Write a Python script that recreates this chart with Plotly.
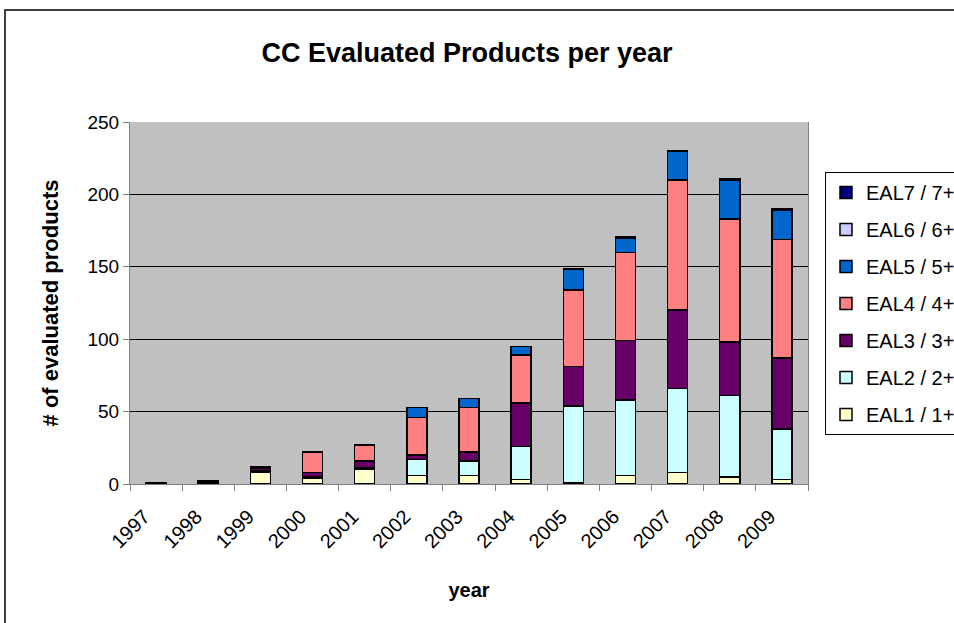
import plotly.graph_objects as go

years = ["1997", "1998", "1999", "2000", "2001", "2002", "2003", "2004", "2005", "2006", "2007", "2008", "2009"]
eal1 = [0, 1, 8, 4, 10, 6, 6, 3, 1, 6, 8, 5, 3]
eal2 = [0, 0, 1, 1, 1, 11, 10, 23, 53, 52, 58, 56, 35]
eal3 = [1, 1, 2, 3, 5, 3, 6, 30, 27, 41, 54, 37, 49]
eal4 = [0, 0, 1, 14, 11, 26, 31, 33, 53, 61, 90, 85, 82]
eal5 = [0, 0, 0, 0, 0, 7, 6, 6, 14, 10, 20, 27, 20]
eal6 = [0, 0, 0, 0, 0, 0, 0, 0, 0, 0, 0, 0, 0]
eal7 = [0, 0, 0, 0, 0, 0, 0, 0, 1, 1, 0, 1, 1]

series = [
    ("EAL1 / 1+", eal1, "#FFFFCC"),
    ("EAL2 / 2+", eal2, "#CCFFFF"),
    ("EAL3 / 3+", eal3, "#660066"),
    ("EAL4 / 4+", eal4, "#FF8080"),
    ("EAL5 / 5+", eal5, "#0066CC"),
    ("EAL6 / 6+", eal6, "#CCCCFF"),
    ("EAL7 / 7+", eal7, "#000080"),
]

FONT = "Liberation Sans, Arial, sans-serif"

fig = go.Figure()
n = len(series)
for i, (name, vals, color) in enumerate(series):
    fig.add_trace(go.Bar(
        x=years,
        y=[v if v else None for v in vals],
        name=name,
        legendgroup=name,
        legendrank=n - i,
        marker=dict(color=color, line=dict(color="black", width=1.5)),
    ))

L, R, T, B = 130, 146, 122, 139
pw = 954 - L - R
ph = 623 - T - B

def px(x):
    return (x - L) / pw

def py(y):
    return (623 - B - y) / ph

fig.update_layout(
    width=954, height=623,
    margin=dict(l=L, r=R, t=T, b=B, autoexpand=False),
    barmode="stack",
    bargap=0.615,
    paper_bgcolor="white",
    plot_bgcolor="#C0C0C0",
    font=dict(family=FONT, color="black", size=19),
    title=dict(text="<b>CC Evaluated Products per year</b>", x=467 / 954, xanchor="center",
               y=1 - 53 / 623, yanchor="middle", font=dict(size=27, family=FONT)),
    legend=dict(
        x=px(825), xanchor="left", y=py(172), yanchor="top",
        traceorder="grouped",
        tracegroupgap=8,
        bordercolor="black", borderwidth=1, bgcolor="white",
        font=dict(size=20, family=FONT),
        itemwidth=30,
    ),
    xaxis=dict(
        type="category",
        tickangle=-45,
        tickfont=dict(size=20),
        ticks="outside", ticklen=6, tickcolor="#808080",
        tickson="boundaries",
        ticklabelstandoff=12,
        ticklabelshift=-12,
        showline=True, linecolor="#808080", linewidth=1,
        showgrid=False,
        title=dict(text="<b>year</b>", font=dict(size=20), standoff=31),
    ),
    yaxis=dict(
        range=[0, 250],
        dtick=50,
        tickfont=dict(size=19),
        ticks="outside", ticklen=6, tickcolor="#808080",
        showline=True, linecolor="#808080", linewidth=1, mirror=True,
        showgrid=True, gridcolor="black", gridwidth=1,
        zeroline=False,
        title=dict(text="<b># of evaluated products</b>", font=dict(size=22), standoff=22),
    ),
    shapes=[
        dict(type="rect", xref="paper", yref="paper",
             x0=px(5), x1=px(970), y0=py(640), y1=py(10),
             line=dict(color="black", width=1.5), fillcolor="rgba(0,0,0,0)", layer="below"),
    ],
)

fig.write_html("out.html")
